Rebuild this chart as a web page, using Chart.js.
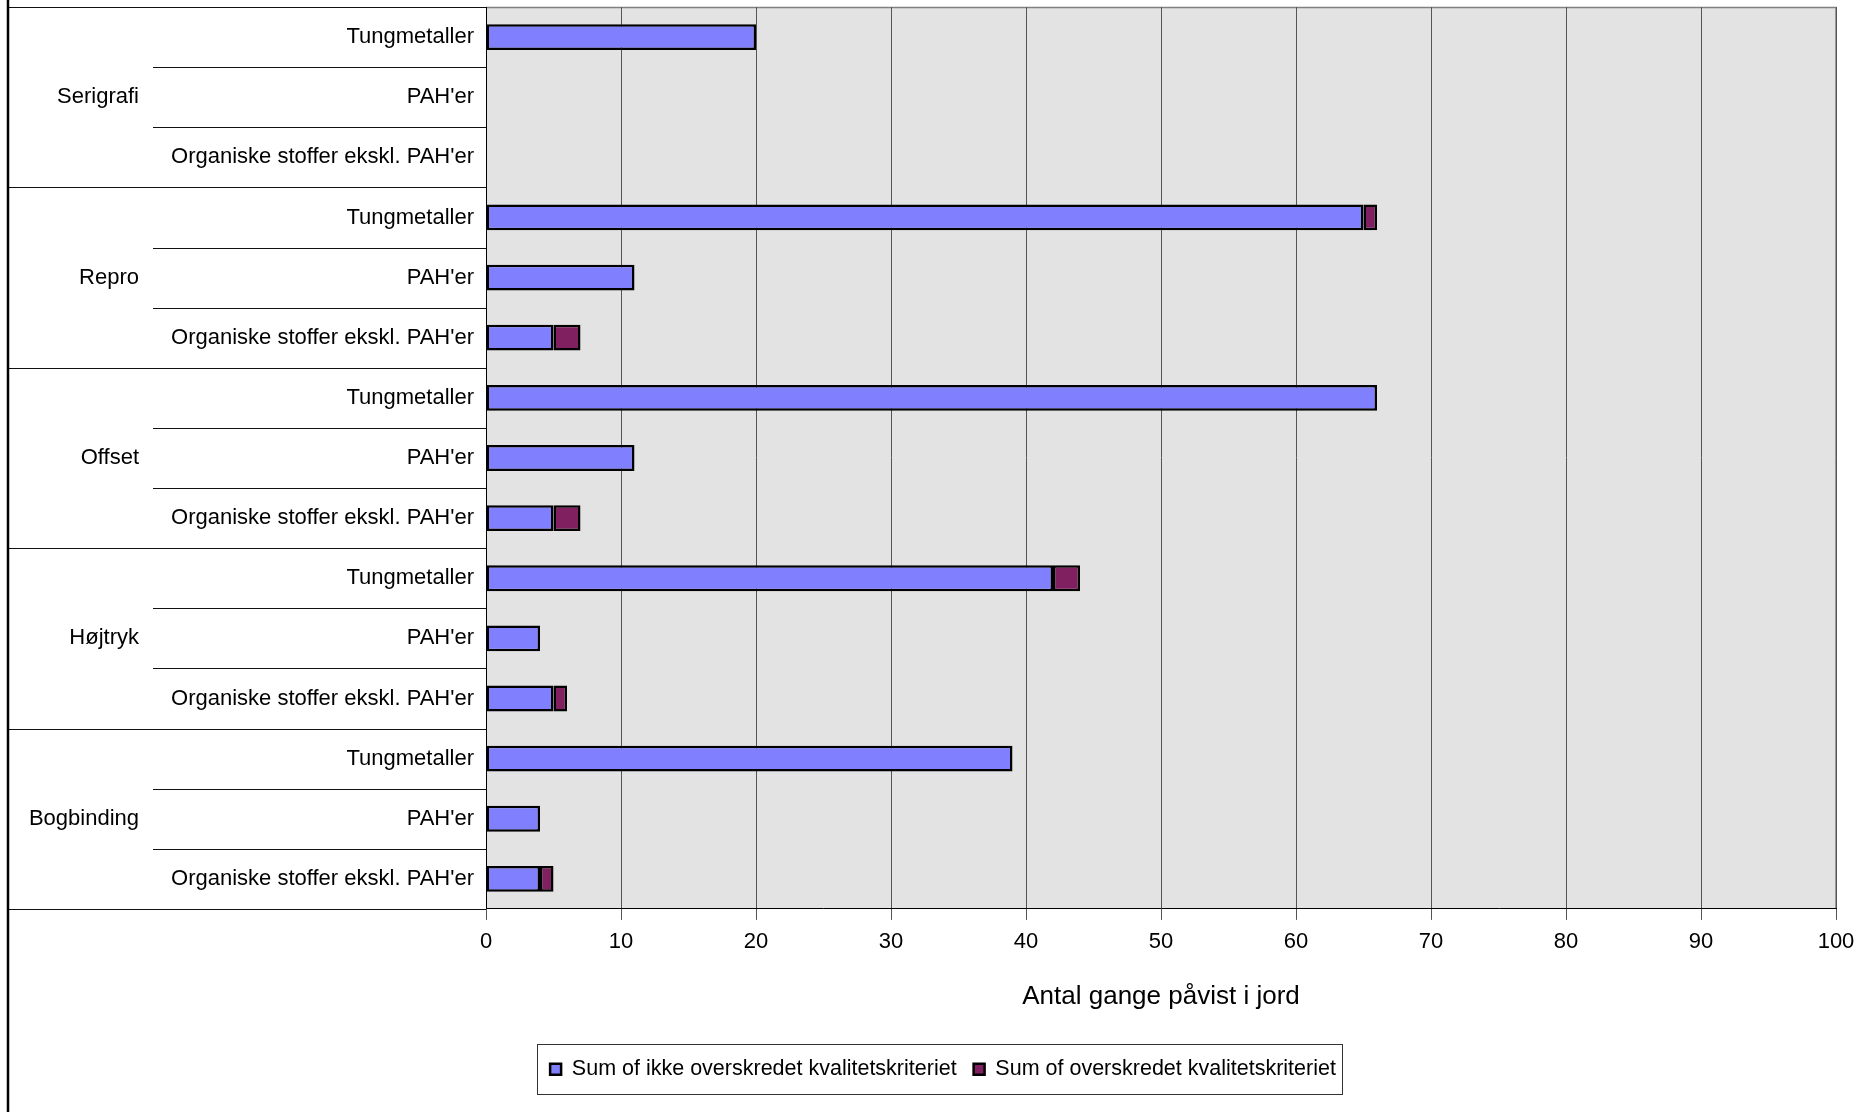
<!DOCTYPE html>
<html>
<head>
<meta charset="utf-8">
<script src="https://cdn.jsdelivr.net/npm/chart.js@4"></script>
<style>
  html, body { margin: 0; padding: 0; background: #fff; }
  #wrap { width: 1876px; height: 1112px; }
</style>
</head>
<body>
<div id="wrap"><canvas id="chart"></canvas></div>
<script>
const groups = ["Serigrafi", "Repro", "Offset", "Højtryk", "Bogbinding"];
const substances = ["Tungmetaller", "PAH'er", "Organiske stoffer ekskl. PAH'er"];
const notExceeded = [20, 0, 0, 65, 11, 5, 66, 11, 5, 42, 4, 5, 39, 4, 4];
const exceeded = [0, 0, 0, 1, 0, 2, 0, 0, 2, 2, 0, 1, 0, 0, 1];
const xTicks = [0, 10, 20, 30, 40, 50, 60, 70, 80, 90, 100];

const font = "'Liberation Sans', Arial, sans-serif";

// one row per substance in every group, group name on the middle row
const rowLabels = [];
const groupLabels = [];
groups.forEach((g) => {
  substances.forEach((s, i) => {
    rowLabels.push(s);
    groupLabels.push(i === 1 ? g : "");
  });
});

const frame = {
  id: "frame",
  afterLayout(chart) {
    // centre the legend on the whole canvas
    const lg = chart.legend;
    const shift = chart.width / 2 + 5 - (lg.left + lg.right) / 2;
    lg.left += shift;
    lg.right += shift;
  },
  beforeDraw(chart) {
    const { ctx, chartArea: a } = chart;
    ctx.save();
    ctx.fillStyle = "#e3e3e3";
    ctx.fillRect(a.left, a.top, a.right - a.left, a.bottom - a.top);
    ctx.strokeStyle = "#808080";
    ctx.lineWidth = 1.5;
    ctx.beginPath();
    ctx.moveTo(a.left, a.top + 0.5);
    ctx.lineTo(a.right, a.top + 0.5);
    ctx.lineTo(a.right, a.bottom);
    ctx.stroke();
    ctx.restore();
  },
  afterDraw(chart) {
    const { ctx } = chart;
    const y = chart.scales.y;
    const y2 = chart.scales.y2;
    ctx.save();
    ctx.strokeStyle = "#111";
    ctx.lineWidth = 1;
    for (let i = 0; i <= rowLabels.length; i++) {
      const py = Math.round(y.getPixelForValue(i - 0.5)) + 0.5;
      const x0 = i % substances.length === 0 ? y2.left : y.left;
      ctx.beginPath();
      ctx.moveTo(x0, py);
      ctx.lineTo(y.right, py);
      ctx.stroke();
    }
    // outer left frame line
    ctx.strokeStyle = "#000";
    ctx.lineWidth = 2.5;
    ctx.beginPath();
    ctx.moveTo(y2.left, 0);
    ctx.lineTo(y2.left, chart.height);
    ctx.stroke();

    // legend border
    const hb = chart.legend.legendHitBoxes;
    if (hb && hb.length) {
      const first = hb[0];
      const last = hb[hb.length - 1];
      const cy = first.top + first.height / 2;
      ctx.strokeStyle = "#333";
      ctx.lineWidth = 1;
      const l = Math.round(first.left - 13) + 0.5;
      const r = Math.round(last.left + last.width + 6) + 0.5;
      const t = Math.round(cy - 25) + 0.5;
      ctx.strokeRect(l, t, r - l, 50);
    }
    ctx.restore();
  },
};

new Chart(document.getElementById("chart"), {
  type: "bar",
  data: {
    labels: rowLabels,
    datasets: [
      {
        label: "Sum of ikke overskredet kvalitetskriteriet",
        data: notExceeded,
        backgroundColor: "#8080ff",
        borderColor: "#000",
        borderWidth: 2.5,
        borderSkipped: false,
      },
      {
        label: "Sum of overskredet kvalitetskriteriet",
        data: exceeded,
        backgroundColor: "#802060",
        borderColor: "#000",
        borderWidth: 2.5,
        borderSkipped: false,
      },
    ],
  },
  options: {
    indexAxis: "y",
    responsive: true,
    maintainAspectRatio: false,
    animation: false,
    datasets: { bar: { categoryPercentage: 1, barPercentage: 0.43 } },
    layout: { padding: { left: 8, top: 7, right: 40, bottom: 22 } },
    scales: {
      x: {
        stacked: true,
        min: 0,
        max: 100,
        afterBuildTicks: (s) => {
          s.ticks = xTicks.map((v) => ({ value: v }));
        },
        grid: { color: "#555", lineWidth: 1, tickLength: 11 },
        border: { color: "#000", width: 1 },
        ticks: { color: "#000", font: { family: font, size: 22 }, padding: 9, maxRotation: 0 },
        title: {
          display: true,
          text: "Antal gange påvist i jord",
          color: "#000",
          font: { family: font, size: 26 },
          padding: { top: 17, bottom: 29 },
        },
      },
      y: {
        stacked: true,
        weight: 0,
        grid: { display: false, drawTicks: false },
        border: { display: true, color: "#000", width: 1 },
        ticks: { color: "#000", font: { family: font, size: 22 }, padding: 12, autoSkip: false },
        afterFit: (s) => {
          s.width = 333;
          s.paddingTop = 0;
          s.paddingBottom = 0;
        },
      },
      y2: {
        type: "category",
        position: "left",
        labels: groupLabels,
        offset: true,
        weight: 1,
        grid: { display: false, drawTicks: false },
        border: { display: false },
        ticks: { color: "#000", font: { family: font, size: 22 }, padding: 14, autoSkip: false },
        afterFit: (s) => {
          s.width = 145;
          s.paddingTop = 0;
          s.paddingBottom = 0;
        },
      },
    },
    plugins: {
      legend: {
        position: "bottom",
        labels: {
          color: "#000",
          font: { family: font, size: 21.5 },
          boxWidth: 11,
          boxHeight: 11,
          padding: 17,
        },
      },
      tooltip: { enabled: false },
    },
  },
  plugins: [frame],
});
</script>
</body>
</html>
